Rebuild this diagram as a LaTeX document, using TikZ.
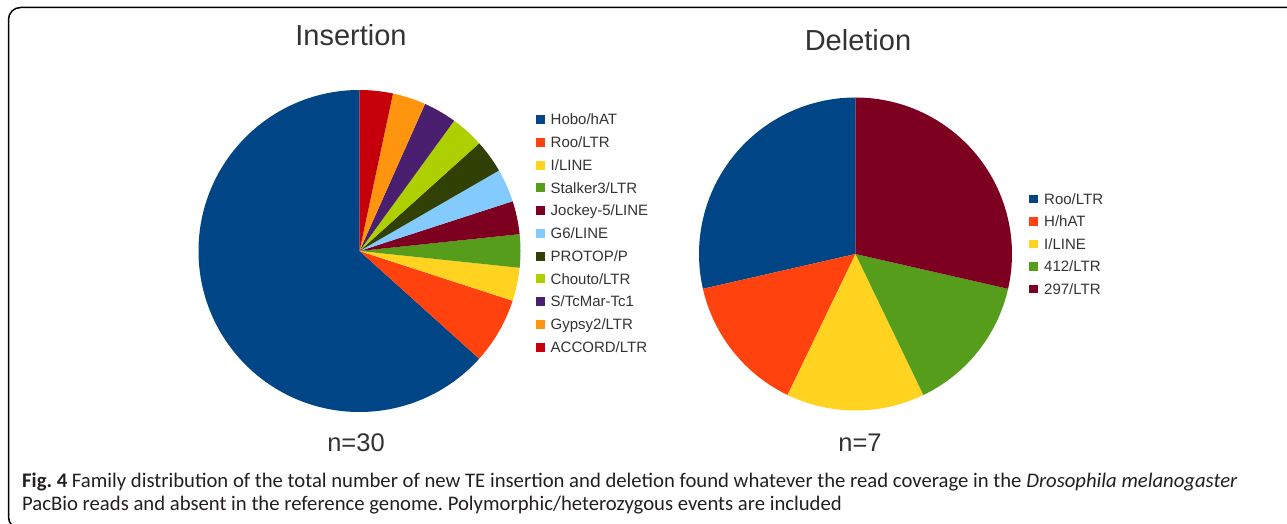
\documentclass[tikz,border=0pt]{standalone}
\usepackage{fontspec}
\setmainfont{Liberation Sans}
\newfontfamily\capfont{Carlito}
\frenchspacing
\definecolor{cA}{HTML}{004586}
\definecolor{cB}{HTML}{FF420E}
\definecolor{cC}{HTML}{FFD320}
\definecolor{cD}{HTML}{579D1C}
\definecolor{cE}{HTML}{7E0021}
\definecolor{cF}{HTML}{83CAFF}
\definecolor{cG}{HTML}{314004}
\definecolor{cH}{HTML}{AECF00}
\definecolor{cI}{HTML}{4B1F6F}
\definecolor{cJ}{HTML}{FF950E}
\definecolor{cK}{HTML}{C5000B}
\definecolor{txt}{HTML}{333333}
\definecolor{captxt}{HTML}{231F20}
\begin{document}
\begin{tikzpicture}[x=1pt,y=1pt,
  title/.style={font=\fontsize{29}{32}\selectfont, text=txt, inner sep=0pt, anchor=base},
  count/.style={font=\fontsize{25.5}{28}\selectfont, text=txt, inner sep=0pt, anchor=base},
  legtext/.style={font=\fontsize{15}{17}\selectfont, text=txt, inner sep=0pt, anchor=base west},
  capline/.style={font=\capfont\fontsize{20.7}{23}\selectfont, text=captxt, inner sep=0pt, anchor=base west}]
\useasboundingbox (0,0) rectangle (1287,524);
\begin{scope}
\clip (0,0) rectangle (1287,524);
\draw[line width=1.5pt, rounded corners=12pt] (1310,516.5) -- (8.5,516.5) -- (8.5,-5) -- (1310,-5);
\end{scope}
% Insertion pie
\coordinate (ic) at (359.5,273);
\foreach \a/\b/\c in {90/318/cA, -42/-18/cB, -18/-6/cC, -6/6/cD, 6/18/cE, 18/30/cF, 30/42/cG, 42/54/cH, 54/66/cI, 66/78/cJ, 78/90/cK}{
  \fill[\c] (ic) -- ++(\a:161) arc[start angle=\a, end angle=\b, radius=161] -- cycle;
}
% Deletion pie
\coordinate (dc) at (855.5,270);
\foreach \a/\b/\c in {90/192.857/cA, -167.143/-115.714/cB, -115.714/-64.286/cC, -64.286/-12.857/cD, -12.857/90/cE}{
  \fill[\c] (dc) -- ++(\a:156.5) arc[start angle=\a, end angle=\b, radius=156.5] -- cycle;
}
% Titles
\node[title] (tins) at (351,478) {Insertion};
\node[title] (tdel) at (858,473) {Deletion};
\node[count] (nins) at (356,72) {n=30};
\node[count] (ndel) at (860,72) {n=7};
% Insertion legend
\foreach \t/\c [count=\i from 0] in {{Hobo/hAT}/cA, {Roo/LTR}/cB, {I/LINE}/cC, {Stalker3/LTR}/cD, {Jockey-5/LINE}/cE, {G6/LINE}/cF, {PROTOP/P}/cG, {Chouto/LTR}/cH, {S/TcMar-Tc1}/cI, {Gypsy2/LTR}/cJ, {ACCORD/LTR}/cK}{
  \pgfmathsetmacro{\yy}{524-119.6-22.75*\i}
  \fill[\c] (536,\yy-4.5) rectangle (545,\yy+4.5);
  \node[legtext] (li\i) at (550.5,\yy-5.3) {\t};
}
% Deletion legend
\foreach \t/\c [count=\i from 0] in {{Roo/LTR}/cA, {H/hAT}/cB, {I/LINE}/cC, {412/LTR}/cD, {297/LTR}/cE}{
  \pgfmathsetmacro{\yy}{524-199-22.5*\i}
  \fill[\c] (1029,\yy-4.3) rectangle (1037.5,\yy+4.3);
  \node[legtext] (ld\i) at (1044,\yy-5.3) {\t};
}
% Caption
\node[capline] (cap1) at (22,36.5) {\textbf{Fig. 4} Family distribution of the total number of new TE insertion and deletion found whatever the read coverage in the \textit{Drosophila melanogaster}};
\node[capline] (cap2) at (22,13) {PacBio reads and absent in the reference genome. Polymorphic/heterozygous events are included};
\end{tikzpicture}
\end{document}
